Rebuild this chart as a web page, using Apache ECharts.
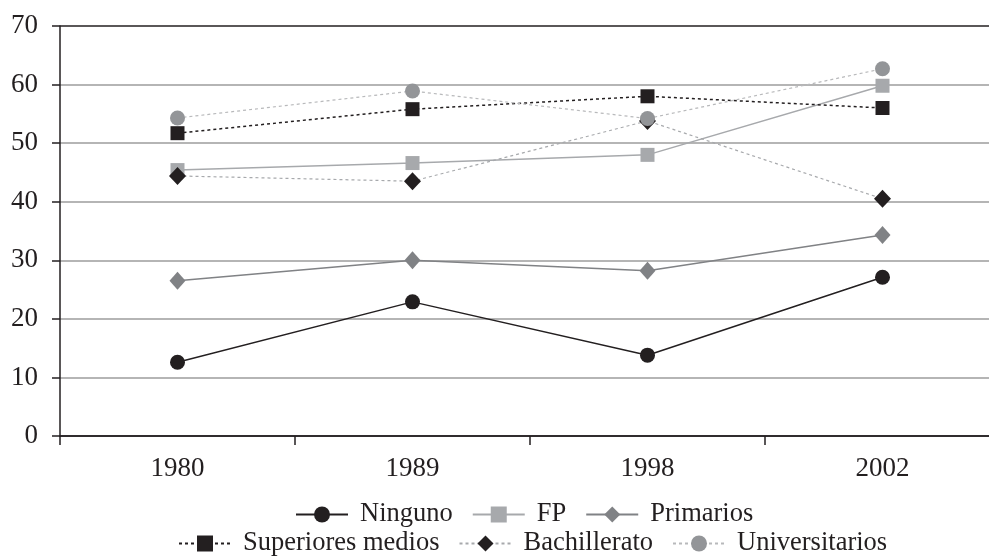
<!DOCTYPE html>
<html>
<head>
<meta charset="utf-8">
<script src="https://cdn.jsdelivr.net/npm/echarts@6/dist/echarts.min.js"></script>
<style>html,body{margin:0;padding:0;background:#fff;overflow:hidden;width:989px;height:556px;}#c{width:1000px;height:556px;}</style>
</head>
<body>
<div id="c"></div>
<script>
const years = ['1980', '1989', '1998', '2002'];
const ninguno = [12.6, 22.9, 13.8, 27.1];
const fp = [45.4, 46.6, 48.0, 59.8];
const primarios = [26.5, 30.0, 28.2, 34.3];
const superioresMedios = [51.7, 55.8, 58.0, 56.0];
const bachillerato = [44.4, 43.5, 53.8, 40.5];
const universitarios = [54.3, 58.9, 54.2, 62.7];
const yTicks = [0, 10, 20, 30, 40, 50, 60, 70];

const BLACK = '#231f20';
const FONT = 'Liberation Serif';

function mk(name, data, symbol, size, color, lineColor, lineType, lineWidth) {
  return {
    name: name, type: 'line', data: data, symbol: symbol, symbolSize: size,
    itemStyle: { color: color, opacity: 1 },
    lineStyle: { color: lineColor, type: lineType, width: lineWidth },
    emphasis: { disabled: true }, animation: false
  };
}

const chart = echarts.init(document.getElementById('c'), null, { renderer: 'canvas' });
chart.setOption({
  backgroundColor: '#fff',
  animation: false,
  grid: { left: 60, top: 26, right: 0, bottom: 120, containLabel: false },
  xAxis: {
    type: 'category', data: years, boundaryGap: true,
    axisLine: { lineStyle: { color: BLACK, width: 1.5 } },
    axisTick: { show: true, length: 9, lineStyle: { color: BLACK, width: 1.5 } },
    axisLabel: { color: BLACK, fontFamily: FONT, fontSize: 27, margin: 19 },
    splitLine: { show: false }
  },
  yAxis: {
    type: 'value', min: yTicks[0], max: yTicks[yTicks.length - 1], interval: 10,
    axisLine: { show: true, lineStyle: { color: BLACK, width: 1.5 } },
    axisTick: { show: true, length: 8, lineStyle: { color: BLACK, width: 1.5 } },
    axisLabel: { color: BLACK, fontFamily: FONT, fontSize: 27, margin: 22 },
    splitLine: { show: true, lineStyle: { color: [BLACK, '#9d9d9d', '#9d9d9d', '#9d9d9d', '#9d9d9d', '#9d9d9d', '#9d9d9d', BLACK], width: 1.5 } }
  },
  legend: [
    {
      data: ['Ninguno', 'FP', 'Primarios'], top: 496, left: 290,
      itemWidth: 52, itemHeight: 20, itemGap: 19,
      textStyle: { color: BLACK, fontFamily: FONT, fontSize: 26.5, padding: [0, 0, 0, 7] },
      selectedMode: false
    },
    {
      data: ['Superiores medios', 'Bachillerato', 'Universitarios'], top: 525, left: 173,
      itemWidth: 52, itemHeight: 20, itemGap: 19,
      textStyle: { color: BLACK, fontFamily: FONT, fontSize: 26.5, padding: [0, 0, 0, 7] },
      selectedMode: false
    }
  ],
  series: [
    mk('Ninguno', ninguno, 'circle', 15, BLACK, BLACK, 'solid', 1.5),
    mk('FP', fp, 'rect', 14, '#a7a9ac', '#a7a9ac', 'solid', 1.5),
    mk('Primarios', primarios, 'diamond', [16, 18], '#808285', '#808285', 'solid', 1.5),
    mk('Superiores medios', superioresMedios, 'rect', 14, BLACK, BLACK, [3, 3], 1.5),
    mk('Bachillerato', bachillerato, 'diamond', [17, 18], BLACK, '#a7a9ac', [3, 3], 1.2),
    mk('Universitarios', universitarios, 'circle', 15, '#939598', '#b8b9bb', [3, 3], 1.2)
  ]
});
</script>
</body>
</html>
